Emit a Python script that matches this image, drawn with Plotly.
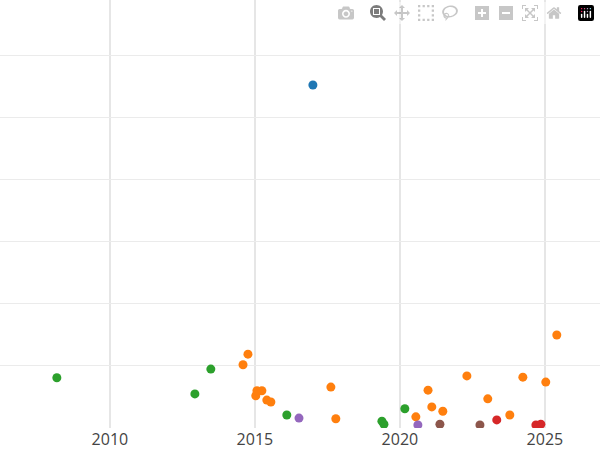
import plotly.graph_objects as go

blue_x = [2017.0]
blue_y = [5.53]
green_x = [2008.17, 2012.93, 2013.48, 2016.10, 2019.38, 2019.45, 2020.17]
green_y = [0.81, 0.55, 0.95, 0.21, 0.11, 0.06, 0.31]
orange_x = [2014.59, 2014.76, 2015.03, 2015.07, 2015.24, 2015.41, 2015.55, 2017.62, 2017.79,
            2020.55, 2020.97, 2021.10, 2021.48, 2022.31, 2023.03, 2023.79, 2024.24, 2025.03, 2025.41]
orange_y = [1.02, 1.19, 0.52, 0.60, 0.60, 0.45, 0.42, 0.66, 0.15,
            0.18, 0.61, 0.34, 0.27, 0.84, 0.47, 0.21, 0.82, 0.74, 1.50]
red_x = [2023.34, 2024.69, 2024.86]
red_y = [0.13, 0.05, 0.06]
purple_x = [2016.52, 2020.62]
purple_y = [0.16, 0.05]
brown_x = [2021.38, 2022.76]
brown_y = [0.06, 0.05]

series = [
    (blue_x, blue_y, "#1f77b4"),
    (orange_x, orange_y, "#ff7f0e"),
    (green_x, green_y, "#2ca02c"),
    (red_x, red_y, "#d62728"),
    (purple_x, purple_y, "#9467bd"),
    (brown_x, brown_y, "#8c564b"),
]

fig = go.Figure()
for xs, ys, c in series:
    fig.add_trace(go.Scatter(x=xs, y=ys, mode="markers",
                             marker=dict(color=c, size=9), showlegend=False))

fig.update_layout(
    width=600, height=450, template="plotly_white",
    margin=dict(l=0, r=0, t=0, b=22, pad=0, autoexpand=False),
    xaxis=dict(range=[2006.21, 2026.9], tickvals=[2010, 2015, 2020, 2025],
               showgrid=True, gridcolor="#e6e6e6", gridwidth=2, zeroline=False,
               ticklabelstandoff=0,
               tickfont=dict(size=16, color="#444", family="Open Sans")),
    yaxis=dict(range=[0, 6.9], dtick=1, showticklabels=False,
               gridcolor="#ebebeb", zeroline=False),
)
fig.write_html("out.html", post_script="document.body.style.margin='0';document.body.style.overflow='hidden';")
